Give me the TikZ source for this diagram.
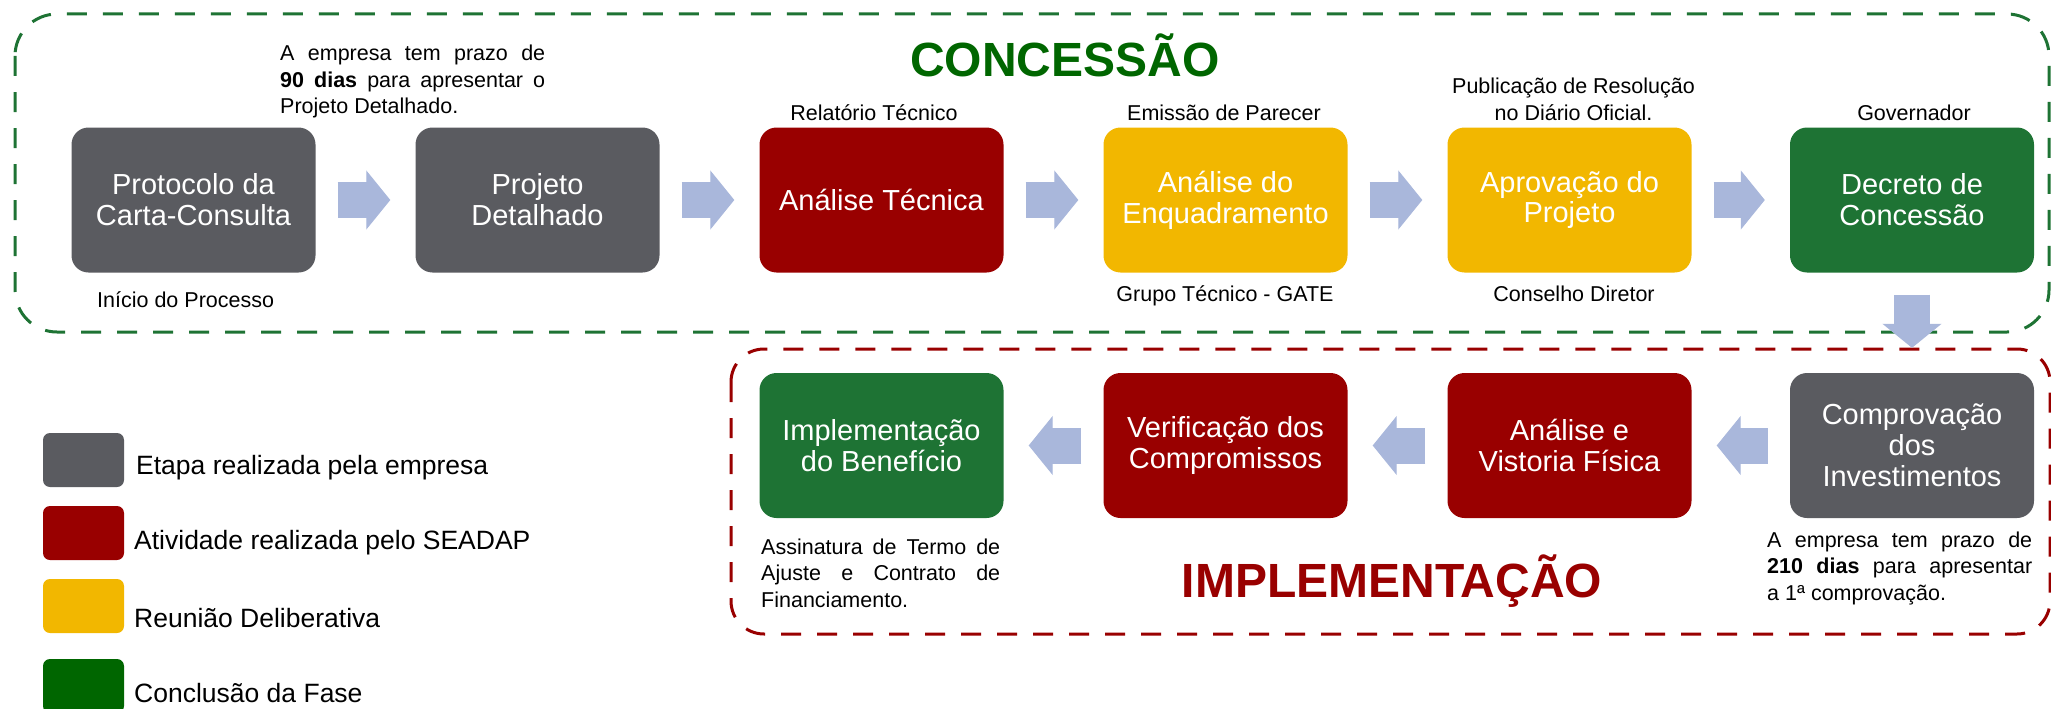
\documentclass[tikz,border=0pt]{standalone}
\usepackage{fontspec}
\setmainfont{Liberation Sans}
\usetikzlibrary{arrows.meta}

\definecolor{cinza}{RGB}{90,91,96}
\definecolor{vermelho}{RGB}{153,0,0}
\definecolor{amarelo}{RGB}{242,183,0}
\definecolor{verde}{RGB}{30,115,52}
\definecolor{verdeescuro}{RGB}{0,102,0}
\definecolor{azulseta}{RGB}{169,183,219}

\tikzset{
  etapa/.style={rounded corners=17pt, minimum width=244pt, minimum height=145pt, inner sep=0pt,
    align=center, text=white, font=\fontsize{29}{31}\selectfont},
  nota/.style={font=\fontsize{21.5}{26.5}\selectfont, inner sep=0pt},
  setabloco/.style={draw=azulseta, line width=36pt, shorten <=22pt, shorten >=25pt,
    -{Triangle[length=24pt, width=59pt, line width=1pt, fill=azulseta]}},
  moldura/.style={line width=3pt, dash pattern=on 20pt off 16pt, rounded corners=42pt},
  legenda/.style={rounded corners=7pt, minimum width=81pt, minimum height=54pt, inner sep=0pt},
  legtexto/.style={font=\fontsize{26.5}{30}\selectfont, inner sep=0pt, anchor=base west},
  titulo/.style={font=\fontsize{48}{48}\selectfont\bfseries, inner sep=0pt, anchor=base}
}

\begin{document}
\begin{tikzpicture}[x=1pt, y=-1pt]
    \useasboundingbox (0,0) rectangle (2051,709);

    % Draw the two phase frames, dashed
    \draw[moldura, verde] (15,14) rectangle (2049,332);
    \draw[moldura, vermelho, rounded corners=33pt] (731,349) rectangle (2050,634);

    % Titles of the phases
    \node[titulo, text=verdeescuro] (concessao) at (1065,77) {CONCESSÃO};
    \node[titulo, text=vermelho] (implementacao) at (1392,597) {IMPLEMENTAÇÃO};

    % Steps of the concession
    \node[etapa, fill=cinza] (protocolo) at (193.5,200) {Protocolo da\\Carta-Consulta};
    \node[etapa, fill=cinza] (projeto) at (537.5,200) {Projeto\\Detalhado};
    \node[etapa, fill=vermelho] (analise) at (881.5,200) {Análise Técnica};
    \node[etapa, fill=amarelo] (enquadramento) at (1225.5,200) {Análise do\\Enquadramento};
    \node[etapa, fill=amarelo] (aprovacao) at (1569.5,200) {Aprovação do\\Projeto};
    \node[etapa, fill=verde] (decreto) at (1912,200) {Decreto de\\Concessão};

    % Steps of the implementation
    \node[etapa, fill=cinza] (comprovacao) at (1912,445.5) {Comprovação\\dos\\Investimentos};
    \node[etapa, fill=vermelho] (vistoria) at (1569.5,445.5) {Análise e\\Vistoria Física};
    \node[etapa, fill=vermelho] (verificacao) at (1225.5,445.5) {Verificação dos\\Compromissos};
    \node[etapa, fill=verde] (beneficio) at (881.5,445.5) {Implementação\\do Benefício};

    % Draw the block arrows between the steps
    \draw[setabloco] (protocolo.east) -- (projeto.west);
    \draw[setabloco] (projeto.east) -- (analise.west);
    \draw[setabloco] (analise.east) -- (enquadramento.west);
    \draw[setabloco] (enquadramento.east) -- (aprovacao.west);
    \draw[setabloco] (aprovacao.east) -- (decreto.west);
    \draw[setabloco] (decreto.south) -- (comprovacao.north);
    \draw[setabloco] (comprovacao.west) -- (vistoria.east);
    \draw[setabloco] (vistoria.west) -- (verificacao.east);
    \draw[setabloco] (verificacao.west) -- (beneficio.east);

    % Notes above and below the steps
    \node[nota, anchor=base west, text width=265pt, align=justify] (prazo90) at (280,61)
      {A empresa tem prazo de\linebreak \textbf{90 dias} para apresentar o\linebreak Projeto Detalhado.};
    \node[nota, anchor=base west] (inicio) at (97,307) {Início do Processo};
    \node[nota, anchor=base] (relatorio) at (874,120) {Relatório Técnico};
    \node[nota, anchor=base] (parecer) at (1224,120) {Emissão de Parecer};
    \node[nota, anchor=base] (gate) at (1225,301) {Grupo Técnico - GATE};
    \node[nota, anchor=base, align=center] (publicacao) at (1573.5,120) {Publicação de Resolução\\no Diário Oficial.};
    \node[nota, anchor=base] (governador) at (1914,120) {Governador};
    \node[nota, anchor=base] (conselho) at (1574,301) {Conselho Diretor};
    \node[nota, anchor=base west, text width=265pt, align=justify] (prazo210) at (1767,547)
      {A empresa tem prazo de\linebreak \textbf{210 dias} para apresentar\linebreak a 1ª comprovação.};
    \node[nota, anchor=base west, text width=239pt, align=justify] (assinatura) at (761,554)
      {Assinatura de Termo de\linebreak Ajuste e Contrato de\linebreak Financiamento.};

    % Legend
    \node[legenda, fill=cinza] (legcinza) at (83.5,460) {};
    \node[legenda, fill=vermelho] (legvermelho) at (83.5,533) {};
    \node[legenda, fill=amarelo] (legamarelo) at (83.5,606) {};
    \node[legenda, fill=verdeescuro] (legverde) at (83.5,686) {};
    \node[legtexto] at (136,474) {Etapa realizada pela empresa};
    \node[legtexto] at (134,549) {Atividade realizada pelo SEADAP};
    \node[legtexto] at (134,627) {Reunião Deliberativa};
    \node[legtexto] at (134,702) {Conclusão da Fase};
\end{tikzpicture}
\end{document}
